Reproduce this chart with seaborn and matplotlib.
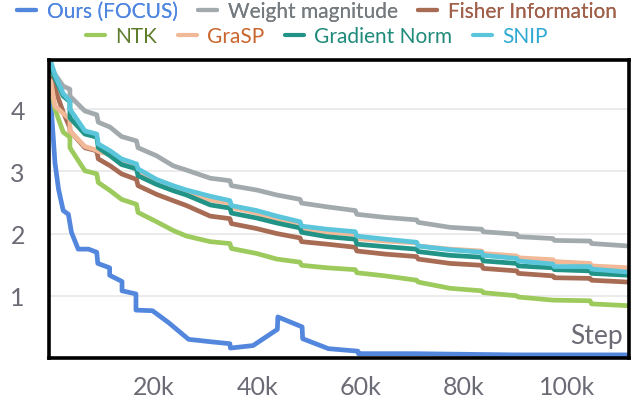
import matplotlib
matplotlib.use("Agg")
import matplotlib.pyplot as plt
from matplotlib.lines import Line2D
import seaborn as sns
import pandas as pd

# ---------------- data (steps in thousands) ----------------
steps_k = [0, 0.8, 2.4, 3.7, 3.7, 6.6, 8.9, 9.2, 11.5, 13.7, 16.6, 16.9, 20.5, 23.7,
           26.3, 30.9, 34.7, 35.0, 39.9, 43.8, 48.3, 48.6, 53.5, 59.0, 59.3, 64.8,
           70.9, 71.2, 77.4, 83.5, 83.8, 90.3, 90.6, 97.3, 97.6, 104.5, 104.8, 112]

weight_mag = [4.72, 4.56, 4.37, 4.32, 4.21, 3.97, 3.91, 3.79, 3.71, 3.56, 3.49, 3.38, 3.25,
              3.09, 3.02, 2.89, 2.85, 2.77, 2.70, 2.62, 2.55, 2.49, 2.43, 2.37, 2.31, 2.26,
              2.22, 2.18, 2.10, 2.07, 2.03, 1.99, 1.95, 1.92, 1.89, 1.88, 1.84, 1.80]
fisher = [4.50, 4.33, 3.95, 3.70, 3.65, 3.38, 3.33, 3.20, 3.09, 2.96, 2.87, 2.77, 2.63,
          2.53, 2.45, 2.28, 2.24, 2.16, 2.08, 2.00, 1.93, 1.87, 1.83, 1.78, 1.72, 1.67,
          1.63, 1.59, 1.52, 1.49, 1.44, 1.40, 1.36, 1.32, 1.29, 1.28, 1.25, 1.22]
ntk = [4.35, 4.00, 3.63, 3.55, 3.38, 3.01, 2.96, 2.82, 2.69, 2.55, 2.47, 2.34, 2.19,
       2.05, 1.96, 1.87, 1.84, 1.76, 1.68, 1.59, 1.54, 1.49, 1.45, 1.42, 1.37, 1.32,
       1.25, 1.22, 1.12, 1.08, 1.05, 1.00, 0.98, 0.93, 0.93, 0.92, 0.87, 0.84]
grasp = [4.45, 4.05, 3.93, 3.84, 3.65, 3.40, 3.34, 3.32, 3.27, 3.16, 3.09, 3.00, 2.83,
         2.73, 2.66, 2.54, 2.49, 2.42, 2.33, 2.21, 2.14, 2.08, 2.02, 1.99, 1.92, 1.88,
         1.85, 1.80, 1.75, 1.72, 1.68, 1.64, 1.61, 1.58, 1.55, 1.52, 1.48, 1.45]
grad_norm = [4.65, 4.50, 4.21, 4.12, 3.86, 3.60, 3.55, 3.38, 3.25, 3.11, 3.04, 2.93, 2.79,
             2.69, 2.62, 2.46, 2.41, 2.33, 2.25, 2.17, 2.09, 2.02, 1.95, 1.91, 1.83, 1.79,
             1.75, 1.71, 1.65, 1.62, 1.56, 1.52, 1.48, 1.45, 1.42, 1.40, 1.36, 1.33]
snip = [4.76, 4.55, 4.25, 4.13, 4.00, 3.65, 3.60, 3.44, 3.33, 3.20, 3.12, 3.04, 2.87,
        2.77, 2.70, 2.60, 2.53, 2.45, 2.37, 2.28, 2.19, 2.12, 2.07, 2.03, 1.96, 1.91,
        1.86, 1.80, 1.74, 1.70, 1.65, 1.60, 1.56, 1.51, 1.47, 1.47, 1.43, 1.38]

ours_steps_k = [0, 0.8, 1.5, 2.4, 3.4, 4.0, 5.3, 7.3, 8.9, 9.1, 11.4, 11.4, 13.8, 13.8,
                16.5, 16.5, 19.7, 22.8, 26.7, 31.1, 34.7, 34.8, 39.2, 43.9, 44.0, 48.7,
                48.8, 53.8, 59.5, 59.6, 70, 80, 90, 100, 112]
ours = [4.12, 3.14, 2.71, 2.37, 2.31, 2.02, 1.75, 1.75, 1.70, 1.52, 1.45, 1.33, 1.23, 1.08,
        1.03, 0.77, 0.76, 0.57, 0.30, 0.26, 0.23, 0.16, 0.20, 0.46, 0.66, 0.50,
        0.31, 0.15, 0.11, 0.07, 0.07, 0.06, 0.05, 0.05, 0.05]

series_names = ["Ours (FOCUS)", "Weight magnitude", "Fisher Information",
                "NTK", "GraSP", "Gradient Norm", "SNIP"]
line_colors = ["#5387dd", "#a3aaae", "#a86c55", "#9dca5c", "#f1b997", "#229487", "#5bc6db"]
text_colors = ["#4f86e0", "#747a7e", "#a0604a", "#5e7d2c", "#c9652e", "#1f8a7a", "#2eaad2"]
x_ticks = [20000, 40000, 60000, 80000, 100000]
x_tick_labels = ["20k", "40k", "60k", "80k", "100k"]
y_ticks = [1, 2, 3, 4]

# ---------------- build table ----------------
rows = []
all_vals = [ours, weight_mag, fisher, ntk, grasp, grad_norm, snip]
for name, vals in zip(series_names, all_vals):
    xs = ours_steps_k if name == "Ours (FOCUS)" else steps_k
    for i, (xk, v) in enumerate(zip(xs, vals)):
        rows.append({"series": name, "order": i, "step": xk * 1000, "value": v})
df = pd.DataFrame(rows)

# ---------------- plot ----------------
sns.set_theme(style="white")
plt.rcParams["font.family"] = ["Lato", "DejaVu Sans"]

fig = plt.figure(figsize=(6.34, 4.06), dpi=100)
ax = fig.add_axes([48.5 / 634, 1 - 359 / 406, (629 - 48.5) / 634, (359 - 61) / 406])

for name, col in zip(series_names, line_colors):
    sub = df[df["series"] == name]
    sns.lineplot(data=sub, x="step", y="value", ax=ax, color=col, lw=3.4,
                 sort=False, estimator=None, legend=False)

ax.set_xlim(-450, 112050)
ax.set_ylim(0, 4.79)
ax.set_xticks(x_ticks)
ax.set_xticklabels(x_tick_labels)
ax.set_yticks(y_ticks)
ax.set_xlabel("")
ax.set_ylabel("")
ax.grid(axis="y", color="#e8e8e8", lw=1.2)
ax.grid(axis="x", visible=False)
ax.tick_params(axis="x", direction="inout", length=14, width=1, color="#e0e0e0",
               labelcolor="#6b6b76", labelsize=18, pad=5)
ax.tick_params(axis="y", direction="out", length=7, width=1, color="#e0e0e0",
               labelcolor="#6b6b76", labelsize=18, pad=10)
for s in ax.spines.values():
    s.set_visible(True)
    s.set_color("black")
    s.set_linewidth(2.6)

ax.text(0.99, 0.035, "Step", transform=ax.transAxes, ha="right", va="bottom",
        fontsize=19, color="#6b6b76")

# ---------------- legend (two centered rows) ----------------
def make_row(idx, y):
    handles = [Line2D([0], [0], color=line_colors[i], lw=3) for i in idx]
    labels = [series_names[i] for i in idx]
    leg = fig.legend(handles, labels, loc="center", bbox_to_anchor=(0.5, y),
                     ncol=len(idx), frameon=False, fontsize=15, handlelength=0.9,
                     handletextpad=0.5, columnspacing=1.0, borderaxespad=0,
                     borderpad=0)
    for t, i in zip(leg.get_texts(), idx):
        t.set_color(text_colors[i])
    return leg

leg1 = make_row([0, 1, 2], 1 - 12 / 406)
fig.add_artist(leg1)
leg2 = make_row([3, 4, 5, 6], 1 - 37 / 406)

fig.savefig("out.png", dpi=100)
